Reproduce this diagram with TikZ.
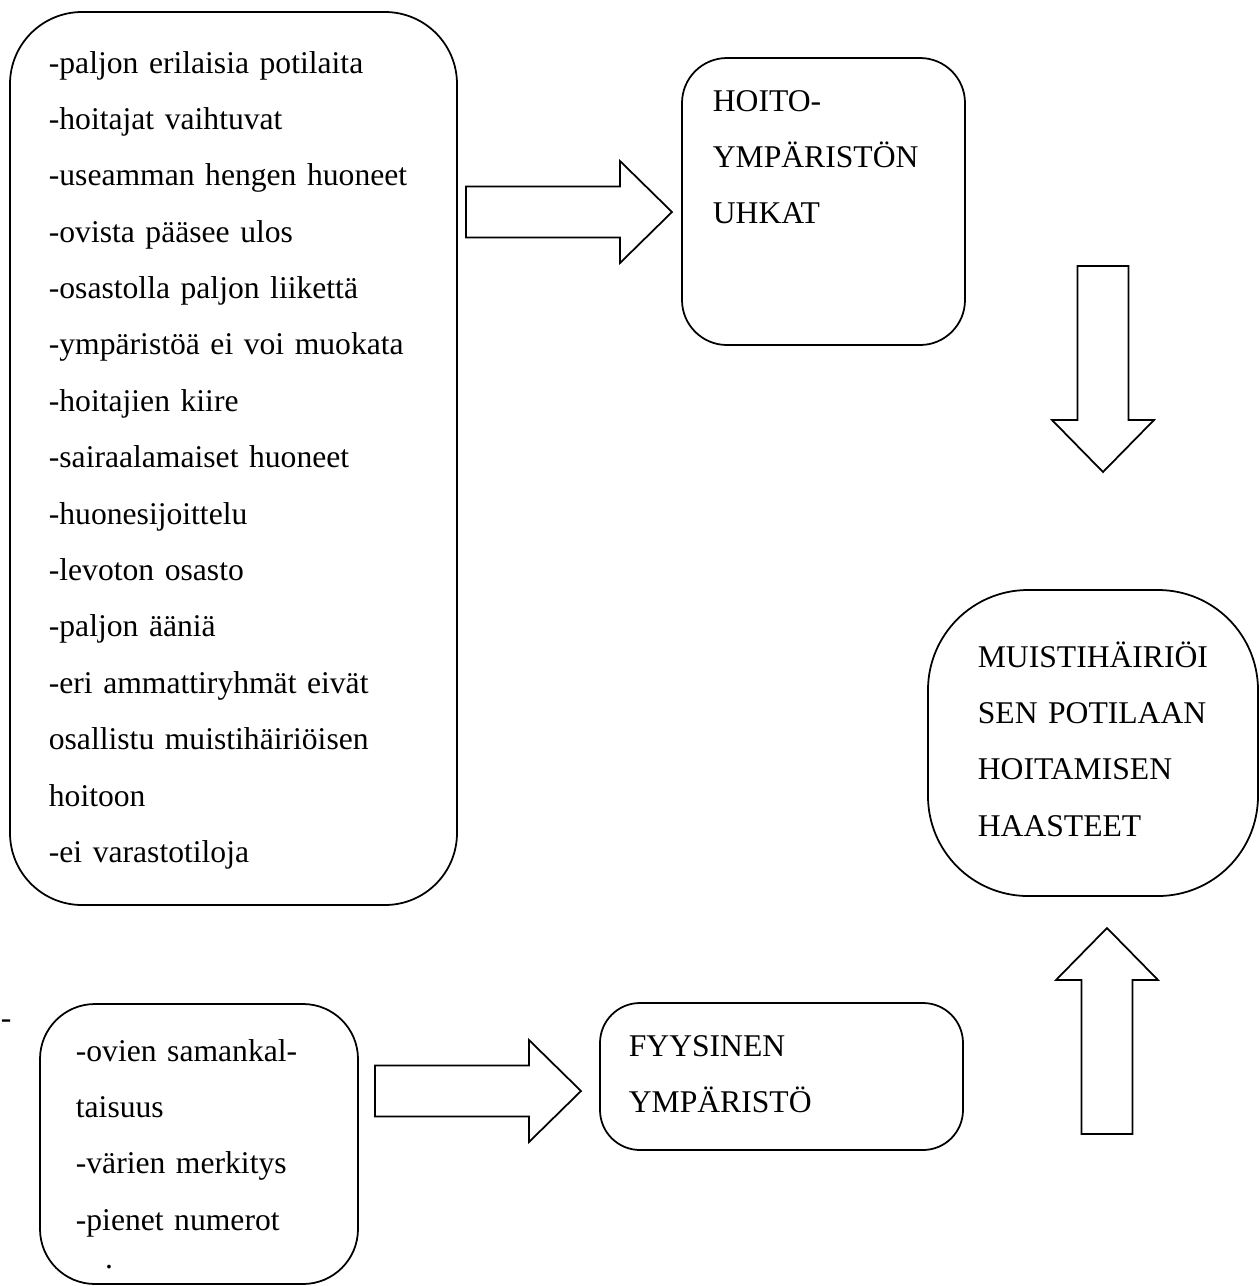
\documentclass[tikz,border=0pt]{standalone}
\usepackage{fontspec}
\setmainfont{Liberation Serif}
\usetikzlibrary{positioning}
\def\px{0.02cm}

\begin{document}
\begin{tikzpicture}[x=\px,y=-\px,line width=1pt]
	\tikzstyle{box}=[draw=black,rectangle,inner sep=0pt]
	\tikzstyle{txt}=[inner sep=0pt,anchor=base west,align=left,text width=380*\px,font=\fontsize{18}{32.1}\selectfont]
	\tikzset{pics/blockarrow/.style={code={
		\draw[fill=white] (0,-25.5) -- (154,-25.5) -- (154,-51) -- (206,0) -- (154,51) -- (154,25.5) -- (0,25.5) -- cycle;}}}
	\useasboundingbox (0,0) rectangle (1259,1286);
	
	% boxes
	\node[box,rounded corners=72*\px,minimum width=447*\px,minimum height=893*\px] (uhatlist) at (233.5,458.5) {};
	\node[box,rounded corners=45*\px,minimum width=283*\px,minimum height=287*\px] (uhat) at (823.5,201.5) {};
	\node[box,rounded corners=100*\px,minimum width=330*\px,minimum height=306*\px] (haaste) at (1093,743) {};
	\node[box,rounded corners=55*\px,minimum width=318*\px,minimum height=280*\px] (fyyslist) at (199,1144) {};
	\node[box,rounded corners=40*\px,minimum width=363*\px,minimum height=147*\px] (fyys) at (781.5,1076.5) {};
	
	% texts
	\node[txt] (uhatlisttxt) at (48,73) {-paljon erilaisia potilaita\\-hoitajat vaihtuvat\\-useamman hengen huoneet\\-ovista pääsee ulos\\-osastolla paljon liikettä\\-ympäristöä ei voi muokata\\-hoitajien kiire\\-sairaalamaiset huoneet\\-huonesijoittelu\\-levoton osasto\\-paljon ääniä\\-eri ammattiryhmät eivät\\osallistu muistihäiriöisen\\hoitoon\\-ei varastotiloja};
	\node[txt] (uhattxt) at (712,111) {HOITO-\\YMPÄRISTÖN\\UHKAT};
	\node[txt] (haastetxt) at (977,667) {MUISTIHÄIRIÖI\\SEN POTILAAN\\HOITAMISEN\\HAASTEET};
	\node[txt] (fyyslisttxt) at (75,1061) {-ovien samankal-\\taisuus\\-värien merkitys\\-pienet numerot};
	\node[txt] (fyystxt) at (628,1056) {FYYSINEN\\YMPÄRISTÖ};
	\node[inner sep=0pt,anchor=base,font=\fontsize{18}{32.1}\selectfont] (dot) at (109,1268) {.};
	\node[inner sep=0pt,anchor=base west,font=\fontsize{18}{32.1}\selectfont] (dash) at (0,1028) {-};
	
	% arrows
	\coordinate (a1) at (466,212);
	\coordinate (a2) at (1103,266);
	\coordinate (a3) at (375,1091);
	\coordinate (a4) at (1107,1134);
	\pic at (a1) {blockarrow};
	\pic[rotate=-90] at (a2) {blockarrow};
	\pic at (a3) {blockarrow};
	\pic[rotate=90] at (a4) {blockarrow};
\end{tikzpicture}
\end{document}
